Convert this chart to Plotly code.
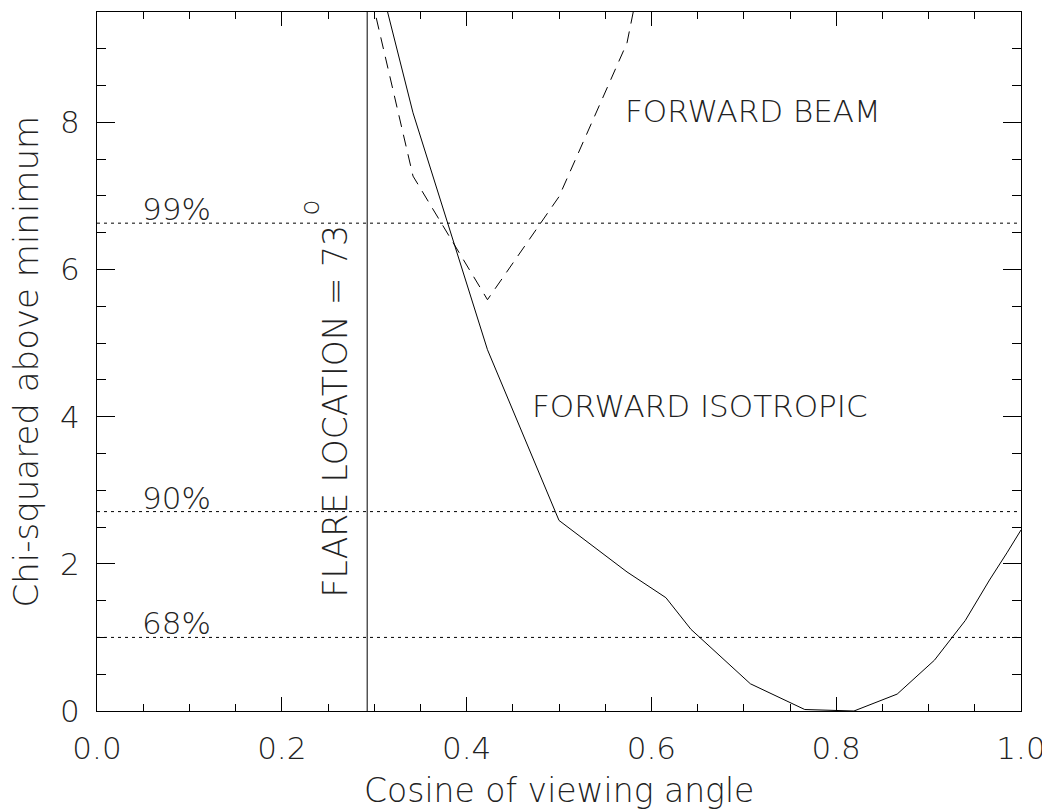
import plotly.graph_objects as go

# Forward isotropic model (solid)
iso_x = [0.2924, 0.3420, 0.4226, 0.5000, 0.5736, 0.6157, 0.6428, 0.7071, 0.7660,
         0.8192, 0.8660, 0.9063, 0.9397, 0.9659, 0.9848, 1.0000]
iso_y = [10.6, 8.13, 4.91, 2.59, 1.89, 1.54, 1.11, 0.37, 0.02,
         0.00, 0.23, 0.69, 1.23, 1.78, 2.15, 2.46]

# Forward beam model (dashed)
beam_x = [0.2924, 0.3420, 0.4226, 0.5000, 0.5736, 0.6428]
beam_y = [9.95, 7.27, 5.59, 6.99, 9.08, 13.4]

# Confidence levels
conf_labels = ["68%", "90%", "99%"]
conf_values = [1.00, 2.71, 6.63]

flare_cos = 0.2924  # cos(73 deg)

FONT = "DejaVu Sans, sans-serif"
WEIGHT = 200
TXT = "#222222"
FS = 31


def fnt(size=FS):
    return dict(family=FONT, size=size, color=TXT, weight=WEIGHT)


fig = go.Figure()

fig.add_trace(go.Scatter(x=iso_x, y=iso_y, mode="lines",
                         line=dict(color="black", width=1), showlegend=False))
fig.add_trace(go.Scatter(x=beam_x, y=beam_y, mode="lines",
                         line=dict(color="black", width=1, dash="12px,8px"), showlegend=False))

for v in conf_values:
    fig.add_shape(type="line", xref="x", yref="y", x0=0, x1=1, y0=v, y1=v,
                  line=dict(color="black", width=1, dash="3px,4px"))

fig.add_shape(type="line", xref="x", yref="y", x0=flare_cos, x1=flare_cos, y0=0, y1=9.5,
              line=dict(color="black", width=1))

for lab, v in zip(conf_labels, conf_values):
    fig.add_annotation(x=0.086, y=v, xref="x", yref="y", text=lab, showarrow=False,
                       yshift=14, font=fnt())

fig.add_annotation(x=0.710, y=8.15, xref="x", yref="y", text="FORWARD BEAM",
                   showarrow=False, font=fnt())
fig.add_annotation(x=0.653, y=4.15, xref="x", yref="y", text="FORWARD ISOTROPIC",
                   showarrow=False, font=fnt())
fig.add_annotation(x=0.2585, y=4.07, xref="x", yref="y", text="FLARE LOCATION = 73",
                   textangle=-90, showarrow=False, font=fnt(33))
fig.add_annotation(x=0.2303, y=6.84, xref="x", yref="y", text="o",
                   textangle=-90, showarrow=False, font=fnt(26))

# axis titles
fig.add_annotation(x=0.5, y=0, xref="paper", yref="paper", yanchor="top", yshift=-58,
                   text="Cosine of viewing angle", showarrow=False, font=fnt(33))
fig.add_annotation(x=0, y=0.5, xref="paper", yref="paper", xanchor="right", xshift=-50,
                   text="Chi-squared above minimum", textangle=-90, showarrow=False,
                   font=fnt(34))

axis_common = dict(showgrid=False, zeroline=False, showline=True, linecolor="black",
                   linewidth=1, mirror="allticks", ticks="inside", tickcolor="black",
                   tickwidth=1, tickfont=fnt())

fig.update_xaxes(range=[0, 1], tickmode="linear", tick0=0, dtick=0.2, tickformat=".1f",
                 ticklen=14, minor=dict(ticks="inside", dtick=0.05, ticklen=7,
                                        tickcolor="black", tickwidth=1, showgrid=False),
                 ticklabelstandoff=10, **axis_common)
fig.update_yaxes(range=[0, 9.5], tickmode="linear", tick0=0, dtick=2,
                 ticklen=18, minor=dict(ticks="inside", dtick=0.5, ticklen=9,
                                        tickcolor="black", tickwidth=1, showgrid=False),
                 ticklabelstandoff=10, **axis_common)

# page body has an 8px margin, so the figure is sized/offset to land on the reference pixels
fig.update_layout(width=1042, height=801,
                  margin=dict(l=89, r=29, t=4, b=98, autoexpand=False),
                  paper_bgcolor="white", plot_bgcolor="white", showlegend=False)

fig.write_html("out.html")
